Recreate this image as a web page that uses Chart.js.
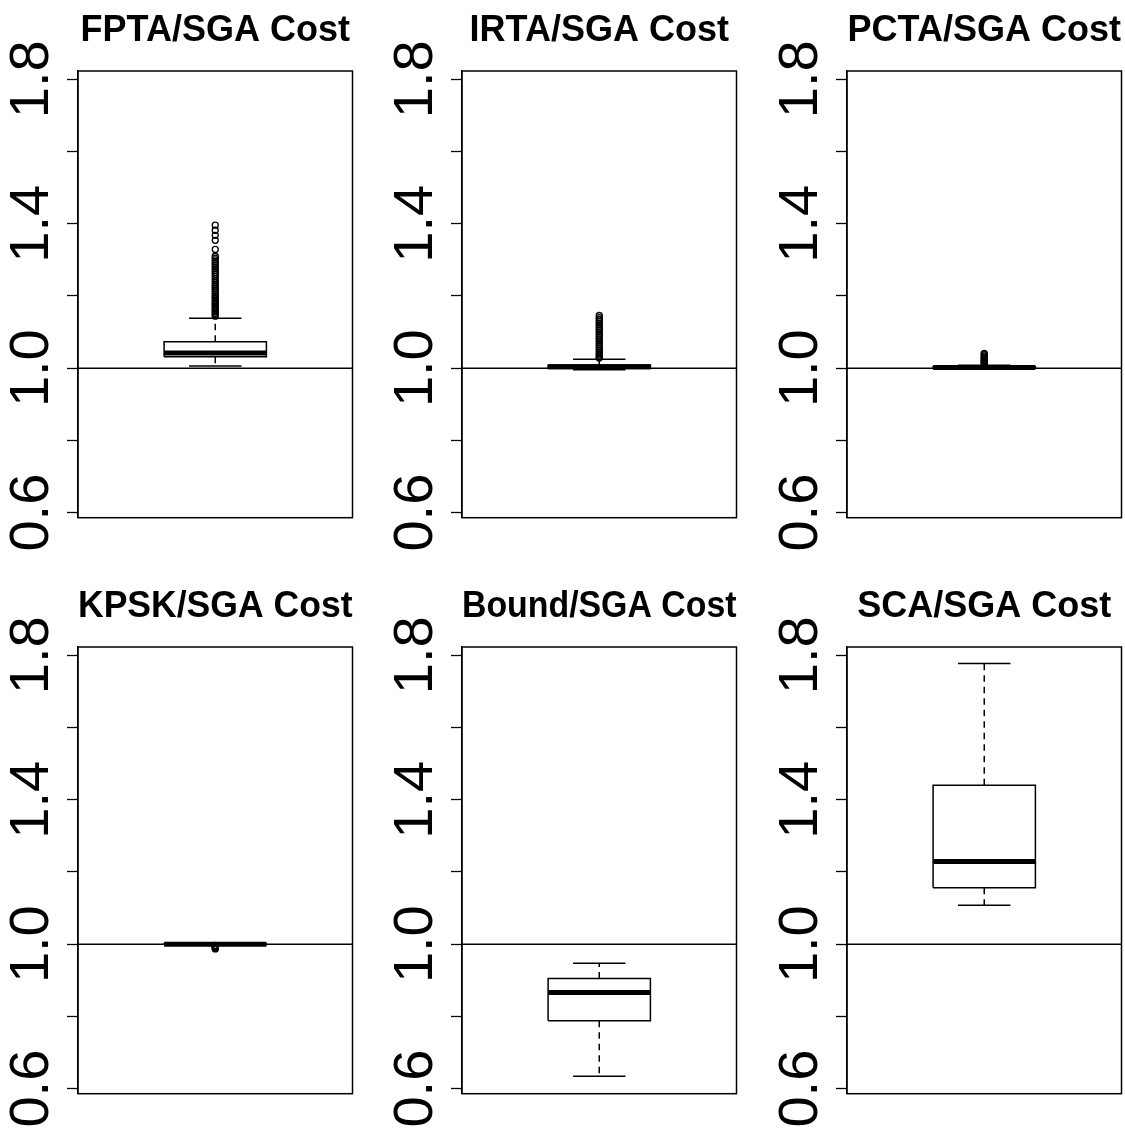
<!DOCTYPE html>
<html>
<head>
<meta charset="utf-8">
<script src="https://cdn.jsdelivr.net/npm/chart.js@4.4.0/dist/chart.umd.min.js"></script>
<style>
body { margin: 0; background: #fff; width: 1125px; height: 1130px; position: relative; overflow: hidden; }
canvas { position: absolute; }
</style>
</head>
<body>
<canvas id="c0" width="365" height="570" style="left:0px;top:0px"></canvas>
<canvas id="c1" width="365" height="570" style="left:384px;top:0px"></canvas>
<canvas id="c2" width="365" height="570" style="left:769px;top:0px"></canvas>
<canvas id="c3" width="365" height="554" style="left:0px;top:576px"></canvas>
<canvas id="c4" width="365" height="554" style="left:384px;top:576px"></canvas>
<canvas id="c5" width="365" height="554" style="left:769px;top:576px"></canvas>
<script>
// one boxplot per panel
const titles = ['FPTA/SGA Cost', 'IRTA/SGA Cost', 'PCTA/SGA Cost', 'KPSK/SGA Cost', 'Bound/SGA Cost', 'SCA/SGA Cost'];
const lowerWhisker = [1.006, 0.996, 0.999, 0.998, 0.634, 1.108];
const lowerQuartile = [1.032, 0.999, 1.000, 0.999, 0.788, 1.156];
const medians = [1.042, 1.004, 1.002, 1.000, 0.866, 1.229];
const upperQuartile = [1.073, 1.009, 1.004, 1.001, 0.905, 1.440];
const upperWhisker = [1.138, 1.025, 1.008, 1.002, 0.947, 1.777];
const outliers = [
  [1.144, 1.148, 1.152, 1.156, 1.16, 1.164, 1.168, 1.172, 1.176, 1.18, 1.184, 1.188, 1.192, 1.196, 1.2,
   1.205, 1.21, 1.215, 1.22, 1.225, 1.23, 1.236, 1.242, 1.248, 1.254, 1.26, 1.265, 1.27, 1.275, 1.28,
   1.285, 1.29, 1.295, 1.3, 1.305, 1.31, 1.329, 1.354, 1.368, 1.382, 1.396],
  [1.028, 1.032, 1.036, 1.04, 1.045, 1.05, 1.055, 1.06, 1.065, 1.07, 1.075, 1.08, 1.085, 1.09, 1.095,
   1.1, 1.105, 1.11, 1.115, 1.12, 1.125, 1.13, 1.135, 1.14, 1.146],
  [1.01, 1.013, 1.016, 1.019, 1.022, 1.025, 1.028, 1.031, 1.034, 1.038, 1.041],
  [0.997, 0.995, 0.993, 0.991, 0.989, 0.987],
  [],
  []
];
const yTicks = [0.6, 0.8, 1.0, 1.2, 1.4, 1.6, 1.8];
const yTickLabels = ['0.6', '', '1.0', '', '1.4', '', '1.8'];
const referenceLevel = 1.0;

const FONT = '"Liberation Sans", Arial, Helvetica, sans-serif';
const center = 1;
const boxHalf = 0.3727;
const capHalf = 0.191;

const framePlugin = {
  id: 'frame',
  afterDraw(chart) {
    const a = chart.chartArea;
    const ctx = chart.ctx;
    ctx.save();
    ctx.strokeStyle = '#000';
    ctx.lineWidth = 1.5;
    ctx.strokeRect(a.left, a.top, a.right - a.left, a.bottom - a.top);
    ctx.restore();
  }
};

function lineSet(points, width, dash) {
  return {
    data: points,
    showLine: true,
    borderColor: '#000',
    borderWidth: width,
    borderDash: dash || [],
    pointRadius: 0,
    fill: false,
    tension: 0
  };
}

for (let i = 0; i < titles.length; i++) {
  const ctx = document.getElementById('c' + i).getContext('2d');
  const padBottom = (i < 3 ? 570 : 554) - 517.7;

  const datasets = [
    {
      data: outliers[i].map(v => ({ x: center, y: v })),
      showLine: false,
      pointStyle: 'circle',
      pointRadius: 3,
      borderColor: '#000',
      backgroundColor: 'rgba(0,0,0,0)',
      borderWidth: 1.3
    },
    lineSet([{ x: center - boxHalf, y: medians[i] }, { x: center + boxHalf, y: medians[i] }], 5),
    lineSet([
      { x: center - boxHalf, y: lowerQuartile[i] },
      { x: center + boxHalf, y: lowerQuartile[i] },
      { x: center + boxHalf, y: upperQuartile[i] },
      { x: center - boxHalf, y: upperQuartile[i] },
      { x: center - boxHalf, y: lowerQuartile[i] }
    ], 1.5),
    lineSet([{ x: center, y: upperQuartile[i] }, { x: center, y: upperWhisker[i] }], 1.5, [6.5, 5]),
    lineSet([{ x: center, y: lowerQuartile[i] }, { x: center, y: lowerWhisker[i] }], 1.5, [6.5, 5]),
    lineSet([{ x: center - capHalf, y: upperWhisker[i] }, { x: center + capHalf, y: upperWhisker[i] }], 1.5),
    lineSet([{ x: center - capHalf, y: lowerWhisker[i] }, { x: center + capHalf, y: lowerWhisker[i] }], 1.5),
    lineSet([{ x: 0, y: referenceLevel }, { x: 2, y: referenceLevel }], 1.5)
  ];

  new Chart(ctx, {
    type: 'scatter',
    data: { datasets: datasets },
    options: {
      responsive: false,
      animation: false,
      events: [],
      layout: { padding: { left: 0, right: 12.5, top: 0, bottom: padBottom } },
      plugins: {
        legend: { display: false },
        tooltip: { enabled: false },
        title: {
          display: true,
          text: titles[i],
          fullSize: false,
          color: '#000',
          font: { family: FONT, size: 36, weight: 'bold', lineHeight: 1.2 },
          padding: { top: 9, bottom: 18.8 }
        }
      },
      scales: {
        x: { type: 'linear', min: 0, max: 2, display: false },
        y: {
          type: 'linear',
          min: 0.586,
          max: 1.823,
          afterBuildTicks: (scale) => { scale.ticks = yTicks.map(v => ({ value: v })); },
          afterFit: (scale) => { scale.width = 78; },
          grid: {
            drawOnChartArea: false,
            drawTicks: true,
            tickLength: 11,
            tickColor: '#000',
            tickWidth: 1.3
          },
          border: { display: true, color: '#000', width: 1.3 },
          ticks: {
            autoSkip: false,
            minRotation: 90,
            maxRotation: 90,
            crossAlign: 'center',
            padding: -4.5,
            color: '#000',
            font: { family: FONT, size: 56 },
            callback: (value) => {
              const k = yTicks.findIndex(t => Math.abs(t - value) < 1e-6);
              return k >= 0 ? yTickLabels[k] : '';
            }
          }
        }
      }
    },
    plugins: [framePlugin]
  });
}
</script>
</body>
</html>
